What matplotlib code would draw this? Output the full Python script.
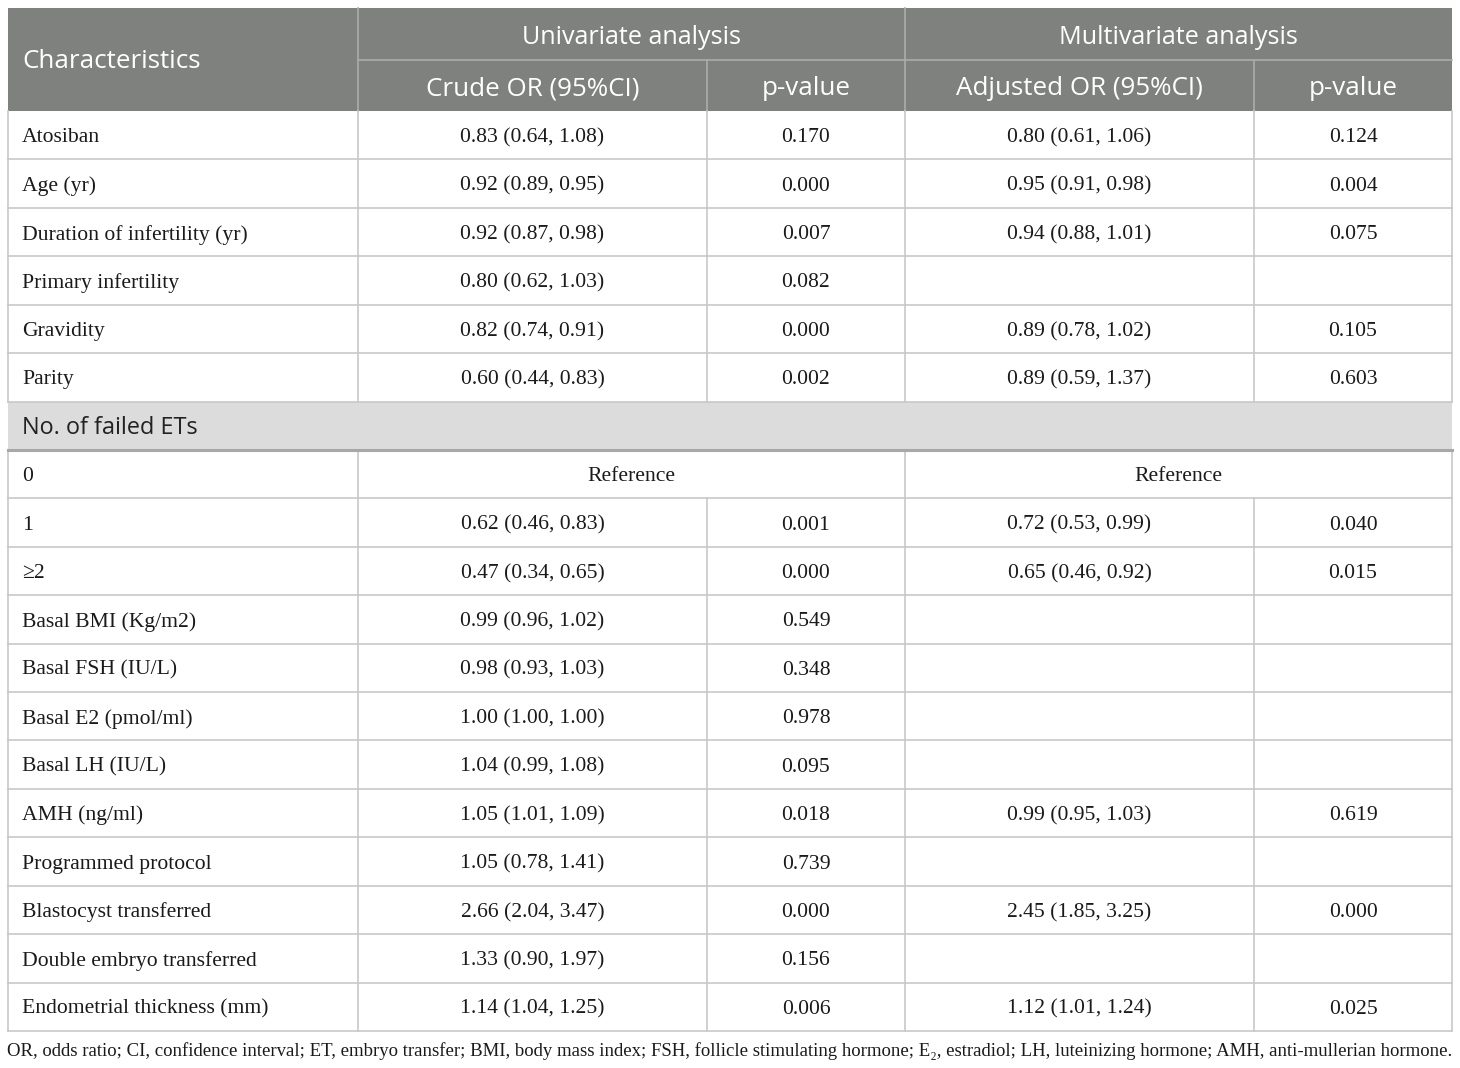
import matplotlib
matplotlib.use("Agg")
import matplotlib.pyplot as plt
from matplotlib.patches import Rectangle

characteristics = ["Atosiban", "Age (yr)", "Duration of infertility (yr)", "Primary infertility",
                   "Gravidity", "Parity", "No. of failed ETs", "0", "1", "≥2",
                   "Basal BMI (Kg/m2)", "Basal FSH (IU/L)", "Basal E2 (pmol/ml)", "Basal LH (IU/L)",
                   "AMH (ng/ml)", "Programmed protocol", "Blastocyst transferred",
                   "Double embryo transferred", "Endometrial thickness (mm)"]
crude_or = ["0.83 (0.64, 1.08)", "0.92 (0.89, 0.95)", "0.92 (0.87, 0.98)", "0.80 (0.62, 1.03)",
            "0.82 (0.74, 0.91)", "0.60 (0.44, 0.83)", None, "Reference", "0.62 (0.46, 0.83)",
            "0.47 (0.34, 0.65)", "0.99 (0.96, 1.02)", "0.98 (0.93, 1.03)", "1.00 (1.00, 1.00)",
            "1.04 (0.99, 1.08)", "1.05 (1.01, 1.09)", "1.05 (0.78, 1.41)", "2.66 (2.04, 3.47)",
            "1.33 (0.90, 1.97)", "1.14 (1.04, 1.25)"]
crude_p = ["0.170", "0.000", "0.007", "0.082", "0.000", "0.002", None, None, "0.001", "0.000",
           "0.549", "0.348", "0.978", "0.095", "0.018", "0.739", "0.000", "0.156", "0.006"]
adj_or = ["0.80 (0.61, 1.06)", "0.95 (0.91, 0.98)", "0.94 (0.88, 1.01)", "",
          "0.89 (0.78, 1.02)", "0.89 (0.59, 1.37)", None, "Reference", "0.72 (0.53, 0.99)",
          "0.65 (0.46, 0.92)", "", "", "", "", "0.99 (0.95, 1.03)", "", "2.45 (1.85, 3.25)",
          "", "1.12 (1.01, 1.24)"]
adj_p = ["0.124", "0.004", "0.075", "", "0.105", "0.603", None, None, "0.040", "0.015",
         "", "", "", "", "0.619", "", "0.000", "", "0.025"]
group_headers = ["Univariate analysis", "Multivariate analysis"]
sub_headers = ["Crude OR (95%CI)", "p-value", "Adjusted OR (95%CI)", "p-value"]
footnote = ("OR, odds ratio; CI, confidence interval; ET, embryo transfer; BMI, body mass index; "
            "FSH, follicle stimulating hormone; E\u2082, estradiol; LH, luteinizing hormone; "
            "AMH, anti-mullerian hormone.")

W, H = 1460, 1068
fig = plt.figure(figsize=(W / 100, H / 100), dpi=100)
ax = fig.add_axes([0, 0, 1, 1])
ax.set_xlim(0, W)
ax.set_ylim(H, 0)
ax.axis("off")

xs = [8, 358, 707, 905, 1254, 1452]
top, h1, h2 = 8, 60, 111
bottom = 1031
n = len(characteristics)
rh = (bottom - h2) / n

HEAD = "#7f817f"
LINE = "#c8c8c8"
SEC = "#dcdcdc"
sans = ["Open Sans", "DejaVu Sans"]
serif = ["Liberation Serif", "DejaVu Serif"]
hfs = 18.7
bfs = 15.6
TXT = "#1a1a1a"

# header background
ax.add_patch(Rectangle((xs[0], top), xs[-1] - xs[0], h2 - top, color=HEAD, lw=0))
ax.plot([xs[1], xs[-1]], [h1, h1], color="#abadab", lw=1.2)
for x in xs[1:-1]:
    y0 = top if x in (xs[1], xs[3]) else h1
    ax.plot([x, x], [y0, h2], color="#abadab", lw=1.2)
ax.text(22, (top + h2) / 2 + 2, "Characteristics", ha="left", va="center", color="white",
        fontsize=hfs, family=sans)
for i, g in enumerate(group_headers):
    ax.text((xs[1 + 2 * i] + xs[3 + 2 * i]) / 2, (top + h1) / 2 + 3, g, ha="center",
            va="center", color="white", fontsize=hfs - 0.6, family=sans)
for i, s in enumerate(sub_headers):
    ax.text((xs[1 + i] + xs[2 + i]) / 2, (h1 + h2) / 2 + 3, s, ha="center", va="center",
            color="white", fontsize=hfs, family=sans)

# body
for r in range(n):
    y0 = h2 + r * rh
    yc = y0 + rh / 2 + 2.5
    if crude_or[r] is None:
        ax.add_patch(Rectangle((xs[0], y0), xs[-1] - xs[0], rh, color=SEC, lw=0))
        ax.text(22, yc - 0.5, characteristics[r], ha="left", va="center", fontsize=16.9,
                family=sans, color="#222222")
        ax.plot([xs[0], xs[-1]], [y0 + rh, y0 + rh], color="#a8a8a8", lw=2.2, zorder=3)
        continue
    ax.text(22, yc, characteristics[r], ha="left", va="center", fontsize=bfs, family=serif,
            color=TXT)
    if crude_p[r] is None:
        ax.text((xs[1] + xs[3]) / 2, yc, crude_or[r], ha="center", va="center", fontsize=bfs,
                family=serif, color=TXT)
        ax.text((xs[3] + xs[5]) / 2, yc, adj_or[r], ha="center", va="center", fontsize=bfs,
                family=serif, color=TXT)
        vlines = [xs[0], xs[1], xs[3], xs[5]]
    else:
        for c, vals in enumerate([crude_or, crude_p, adj_or, adj_p]):
            ax.text((xs[1 + c] + xs[2 + c]) / 2, yc, vals[r], ha="center", va="center",
                    fontsize=bfs, family=serif, color=TXT)
        vlines = xs
    for x in vlines:
        ax.plot([x, x], [y0, y0 + rh], color=LINE, lw=1.2)
    ax.plot([xs[0], xs[-1]], [y0 + rh, y0 + rh], color=LINE, lw=1.2)

ax.text(7, 1051, footnote, ha="left", va="center", fontsize=13.52, family=serif, color=TXT)

fig.savefig("out.png", dpi=100)
